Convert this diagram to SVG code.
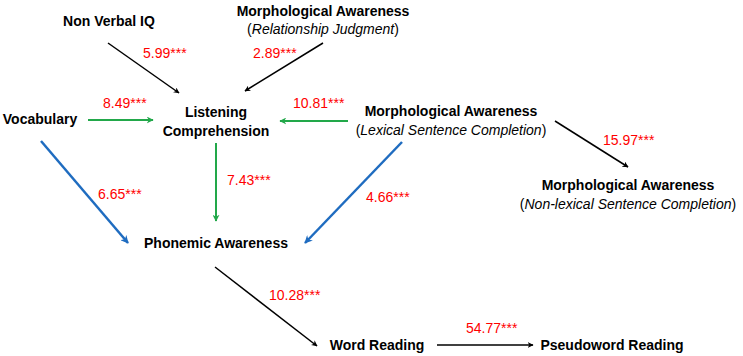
<svg xmlns="http://www.w3.org/2000/svg" width="743" height="356" viewBox="0 0 743 356">
<style>
.n{font-family:"Liberation Sans",Arial,sans-serif;font-size:14px;font-weight:bold;fill:#000;text-anchor:middle}
.s{font-family:"Liberation Sans",Arial,sans-serif;font-size:14px;font-weight:normal;fill:#000;text-anchor:middle}
.i{font-style:italic}
.v{font-family:"Liberation Sans",Arial,sans-serif;font-size:14px;fill:#ff0000}
.k{stroke:#000;stroke-width:1.5;fill:none}
.g{stroke:#22a84a;stroke-width:2;fill:none}
.b{stroke:#1f6cc0;stroke-width:2.5;fill:none}
</style>
<defs>
<marker id="ak" viewBox="0 0 10 10" refX="9" refY="5" markerWidth="6" markerHeight="6" markerUnits="userSpaceOnUse" orient="auto"><path d="M0,0 L10,5 L0,10 L3,5 z" fill="#000"/></marker>
<marker id="ag" viewBox="0 0 10 10" refX="9" refY="5" markerWidth="7" markerHeight="7" markerUnits="userSpaceOnUse" orient="auto"><path d="M0,0 L10,5 L0,10 L3,5 z" fill="#22a84a"/></marker>
<marker id="ab" viewBox="0 0 10 10" refX="9" refY="5" markerWidth="8" markerHeight="8" markerUnits="userSpaceOnUse" orient="auto"><path d="M0,0 L10,5 L0,10 L3,5 z" fill="#1f6cc0"/></marker>
</defs>
<rect width="743" height="356" fill="#fff"/>
<g id="connectors">
<line class="k" x1="108" y1="43" x2="179" y2="93" marker-end="url(#ak)"/>
<line class="k" x1="323" y1="43" x2="245" y2="91" marker-end="url(#ak)"/>
<line class="g" x1="88" y1="120" x2="153" y2="120" marker-end="url(#ag)"/>
<line class="g" x1="348" y1="121" x2="280" y2="121" marker-end="url(#ag)"/>
<line class="k" x1="555" y1="121" x2="628" y2="167" marker-end="url(#ak)"/>
<line class="b" x1="41" y1="141" x2="128" y2="243" marker-end="url(#ab)"/>
<line class="b" x1="402" y1="142" x2="305" y2="243" marker-end="url(#ab)"/>
<line class="g" x1="216" y1="143" x2="216" y2="221" marker-end="url(#ag)"/>
<line class="k" x1="215" y1="267" x2="317" y2="346" marker-end="url(#ak)"/>
<line class="k" x1="437" y1="345" x2="533" y2="345" marker-end="url(#ak)"/>
<text class="v" x="143" y="58">5.99***</text>
<text class="v" x="253" y="58">2.89***</text>
<text class="v" x="103" y="108">8.49***</text>
<text class="v" x="293" y="108">10.81***</text>
<text class="v" x="603" y="145">15.97***</text>
<text class="v" x="227" y="185">7.43***</text>
<text class="v" x="98" y="199">6.65***</text>
<text class="v" x="366" y="202">4.66***</text>
<text class="v" x="269" y="300">10.28***</text>
<text class="v" x="466" y="333">54.77***</text>
</g>
<g id="nonverbal"><text class="n" x="109" y="26">Non Verbal IQ</text></g>
<g id="ma-relationship"><text class="n" x="323" y="16">Morphological Awareness</text><text class="s" x="323" y="34">(<tspan class="i">Relationship Judgment</tspan>)</text></g>
<g id="vocabulary"><text class="n" x="40" y="124">Vocabulary</text></g>
<g id="listening"><text class="n" x="216" y="117">Listening</text><text class="n" x="216" y="136">Comprehension</text></g>
<g id="ma-lexical"><text class="n" x="451" y="116">Morphological Awareness</text><text class="s" x="451" y="135">(<tspan class="i">Lexical Sentence Completion</tspan>)</text></g>
<g id="ma-nonlexical"><text class="n" x="628" y="190">Morphological Awareness</text><text class="s" x="628" y="209">(<tspan class="i">Non-lexical Sentence Completion</tspan>)</text></g>
<g id="phonemic"><text class="n" x="216" y="248">Phonemic Awareness</text></g>
<g id="word"><text class="n" x="377" y="350">Word Reading</text></g>
<g id="pseudo"><text class="n" x="612" y="350">Pseudoword Reading</text></g>
</svg>
